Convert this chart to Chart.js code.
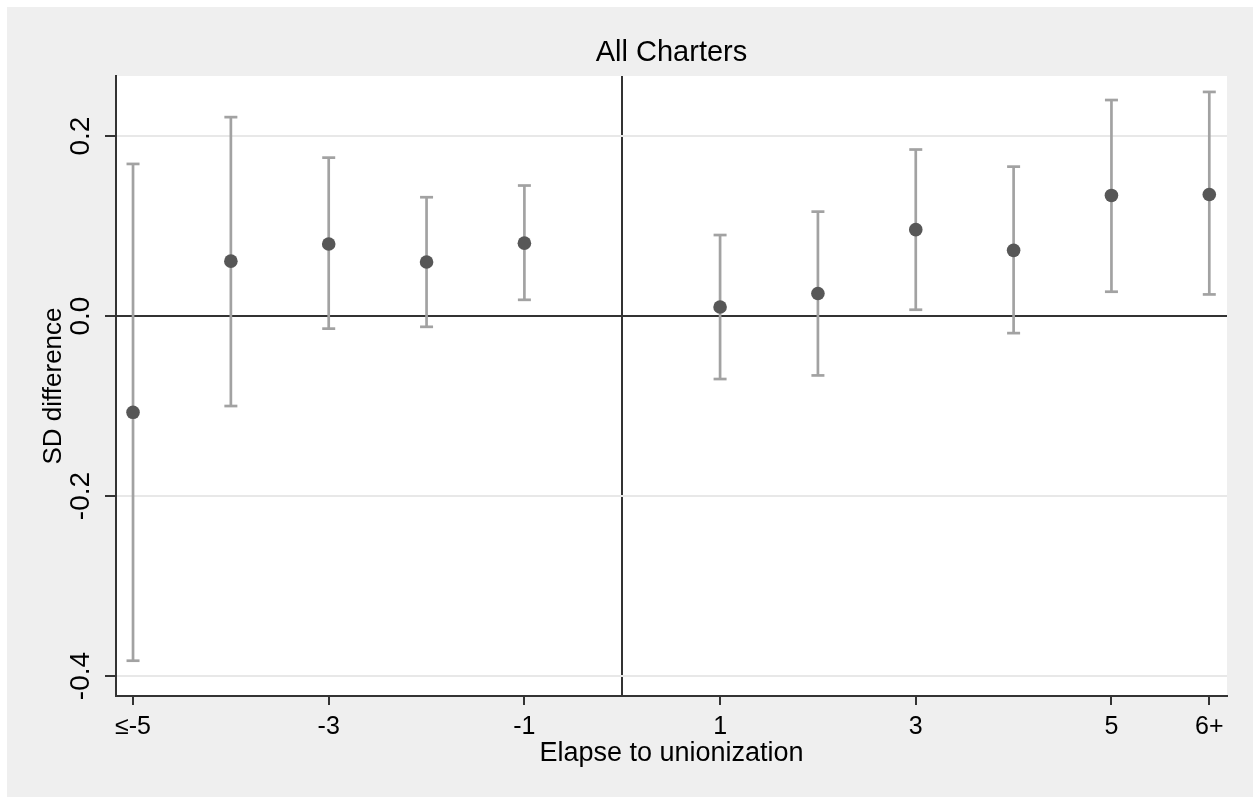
<!DOCTYPE html>
<html>
<head>
<meta charset="utf-8">
<script src="https://cdn.jsdelivr.net/npm/chart.js@4"></script>
<style>
	body { margin: 0; background: #fff; overflow: hidden; }
	#wrap { position: absolute; left: 7px; top: 7px; width: 1246px; height: 790px; background: #efefef; }
</style>
</head>
<body>
<div id="wrap"><canvas id="eventChart"></canvas></div>
<script>
// years relative to unionization (6 = "6+", -5 = "<=-5")
const elapse = [-5, -4, -3, -2, -1, 1, 2, 3, 4, 5, 6];
const estimates = [-0.107, 0.061, 0.080, 0.060, 0.081, 0.010, 0.025, 0.096, 0.073, 0.134, 0.135];
const ciLow = [-0.383, -0.100, -0.014, -0.012, 0.018, -0.070, -0.066, 0.007, -0.019, 0.027, 0.024];
const ciHigh = [0.169, 0.221, 0.176, 0.132, 0.145, 0.090, 0.116, 0.185, 0.166, 0.240, 0.249];

const xTickValues = [-5, -3, -1, 0, 1, 3, 5, 6];
const xTickLabels = ["≤-5", "-3", "-1", "", "1", "3", "5", "6+"];
const yTickValues = [-0.4, -0.2, 0, 0.2];
const yTickLabels = ["-0.4", "-0.2", "0.0", "0.2"];

const FONT = "'Liberation Sans', Arial, sans-serif";
const AXIS_DARK = "#333333";

// one small dataset per confidence interval, caps drawn as 'line' points
const ciSets = elapse.map((x, i) => ({
	type: "line",
	data: [
		{ x: x, y: ciLow[i] },
		{ x: x, y: ciHigh[i] },
	],
	borderColor: "#a2a2a2",
	borderWidth: 2.7,
	pointStyle: "line",
	pointRadius: 6.5,
	pointBorderWidth: 2.7,
	pointBorderColor: "#a2a2a2",
	order: 2,
}));

const pointSet = {
	type: "scatter",
	data: elapse.map((x, i) => ({ x: x, y: estimates[i] })),
	backgroundColor: "#575757",
	borderColor: "#575757",
	pointRadius: 6.8,
	borderWidth: 0,
	order: 1,
};

const plotBackground = {
	id: "plotBackground",
	beforeDraw(chart) {
		const { ctx, chartArea } = chart;
		ctx.save();
		ctx.fillStyle = "#ffffff";
		ctx.fillRect(chartArea.left, chartArea.top, chartArea.right - chartArea.left, chartArea.bottom - chartArea.top);
		ctx.restore();
	},
};

const config = {
	type: "scatter",
	data: { datasets: [...ciSets, pointSet] },
	options: {
		responsive: true,
		maintainAspectRatio: false,
		animation: false,
		events: [],
		layout: { padding: { left: 0, top: 0, right: 26, bottom: 0 } },
		plugins: {
			legend: { display: false },
			tooltip: { enabled: false },
			title: {
				display: true,
				text: "All Charters",
				color: "#000",
				fullSize: false,
				font: { family: FONT, size: 29, weight: "normal" },
				padding: { top: 28.5, bottom: 5.7 },
			},
		},
		scales: {
			x: {
				type: "linear",
				min: -5.174,
				max: 6.181,
				afterBuildTicks: (scale) => {
					scale.ticks = xTickValues.map((v) => ({ value: v }));
				},
				afterFit: (scale) => {
					scale.height = 101;
				},
				ticks: {
					color: "#000",
					font: { family: FONT, size: 25 },
					padding: 7,
					maxRotation: 0,
					autoSkip: false,
					callback: (value) => xTickLabels[xTickValues.indexOf(value)],
				},
				grid: {
					color: (ctx) => (ctx.tick && ctx.tick.value === 0 ? AXIS_DARK : "rgba(0,0,0,0)"),
					tickColor: (ctx) => (ctx.tick && ctx.tick.value === 0 ? "rgba(0,0,0,0)" : AXIS_DARK),
					lineWidth: 2,
					tickLength: 9,
					tickWidth: 2,
				},
				border: { color: AXIS_DARK, width: 2 },
				title: {
					display: true,
					text: "Elapse to unionization",
					color: "#000",
					font: { family: FONT, size: 27 },
					padding: { top: 0, bottom: 27 },
				},
			},
			y: {
				type: "linear",
				min: -0.4222,
				max: 0.2667,
				afterBuildTicks: (scale) => {
					scale.ticks = yTickValues.map((v) => ({ value: v }));
				},
				afterFit: (scale) => {
					scale.width = 109;
				},
				ticks: {
					color: "#000",
					font: { family: FONT, size: 28 },
					padding: 0,
					minRotation: 90,
					maxRotation: 90,
					crossAlign: "center",
					autoSkip: false,
					callback: (value) => yTickLabels[yTickValues.findIndex((v) => Math.abs(v - value) < 1e-9)],
				},
				grid: {
					color: (ctx) => (ctx.tick && Math.abs(ctx.tick.value) < 1e-9 ? AXIS_DARK : "#e8e8e8"),
					tickColor: AXIS_DARK,
					lineWidth: 2,
					tickLength: 11,
					tickWidth: 2,
				},
				border: { color: AXIS_DARK, width: 2 },
				title: {
					display: true,
					text: "SD difference",
					color: "#000",
					font: { family: FONT, size: 26 },
					padding: { top: 31, bottom: 0 },
				},
			},
		},
	},
	plugins: [plotBackground],
};

const eventChart = new Chart(document.getElementById("eventChart"), config);
</script>
</body>
</html>
